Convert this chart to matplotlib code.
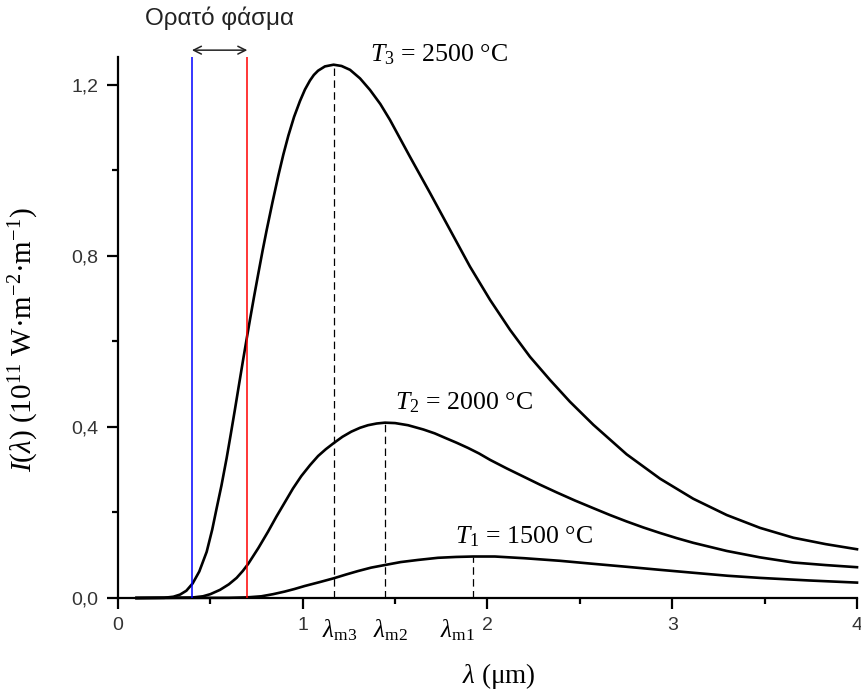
import numpy as np
import matplotlib
matplotlib.use("Agg")
import matplotlib.pyplot as plt

plt.rcParams['font.family'] = ['Liberation Sans', 'DejaVu Sans']
plt.rcParams['mathtext.fontset'] = 'custom'
plt.rcParams['mathtext.rm'] = 'Liberation Serif'
plt.rcParams['mathtext.it'] = 'Liberation Serif:italic'

# λ (μm) and I(λ) (10^11 W·m^-2·m^-1)
x_T3 = [0.10, 0.25, 0.30, 0.336, 0.37, 0.404, 0.44, 0.48, 0.51, 0.534, 0.56, 0.588, 0.61,
        0.633, 0.655, 0.678, 0.70, 0.714, 0.737, 0.76, 0.783, 0.805, 0.836, 0.868, 0.895,
        0.922, 0.953, 0.985, 1.012, 1.039, 1.06, 1.083, 1.12, 1.167, 1.21, 1.256, 1.31,
        1.364, 1.42, 1.472, 1.58, 1.689, 1.797, 1.905, 2.014, 2.122, 2.23, 2.338, 2.446,
        2.573, 2.753, 2.934, 3.114, 3.295, 3.475, 3.655, 3.83, 4.0]
y_T3 = [0.0, 0.0005, 0.003, 0.008, 0.017, 0.034, 0.062, 0.108, 0.160, 0.210, 0.263, 0.327,
        0.382, 0.441, 0.499, 0.559, 0.615, 0.650, 0.706, 0.760, 0.813, 0.861, 0.925, 0.988,
        1.037, 1.081, 1.125, 1.162, 1.189, 1.210, 1.223, 1.233, 1.243, 1.247, 1.244, 1.235,
        1.215, 1.188, 1.155, 1.118, 1.032, 0.947, 0.861, 0.775, 0.697, 0.627, 0.564, 0.510,
        0.459, 0.405, 0.336, 0.279, 0.232, 0.194, 0.164, 0.141, 0.126, 0.114]

x_T2 = [0.10, 0.40, 0.46, 0.50, 0.552, 0.60, 0.642, 0.675, 0.705, 0.76, 0.812, 0.857, 0.902,
        0.947, 0.992, 1.04, 1.083, 1.125, 1.167, 1.215, 1.263, 1.31, 1.353, 1.40, 1.445,
        1.50, 1.57, 1.653, 1.714, 1.773, 1.833, 1.894, 1.954, 2.014, 2.104, 2.194, 2.284,
        2.374, 2.473, 2.573, 2.663, 2.753, 2.843, 2.934, 3.024, 3.114, 3.295, 3.475, 3.655,
        3.83, 4.0]
y_T2 = [0.0, 0.001, 0.004, 0.009, 0.019, 0.032, 0.047, 0.063, 0.080, 0.117, 0.155, 0.190,
        0.223, 0.256, 0.285, 0.311, 0.332, 0.348, 0.362, 0.377, 0.389, 0.398, 0.404, 0.408,
        0.410, 0.409, 0.404, 0.394, 0.385, 0.374, 0.363, 0.351, 0.338, 0.323, 0.303, 0.284,
        0.265, 0.247, 0.228, 0.210, 0.194, 0.179, 0.165, 0.152, 0.140, 0.129, 0.110, 0.095,
        0.083, 0.077, 0.072]

x_T1 = [0.10, 0.60, 0.70, 0.776, 0.84, 0.902, 0.955, 1.010, 1.09, 1.167, 1.235, 1.299, 1.37,
        1.443, 1.53, 1.624, 1.732, 1.83, 1.922, 2.04, 2.2, 2.392, 2.57, 2.753, 2.93, 3.114,
        3.3, 3.475, 3.74, 4.0]
y_T1 = [0.0, 0.0005, 0.0015, 0.004, 0.009, 0.015, 0.021, 0.028, 0.037, 0.046, 0.055, 0.063,
        0.071, 0.077, 0.084, 0.089, 0.094, 0.096, 0.097, 0.097, 0.093, 0.087, 0.080, 0.073,
        0.066, 0.059, 0.052, 0.047, 0.041, 0.036]

# peak positions (λm) and peak heights
lam_m = [1.922, 1.445, 1.167]
peak_I = [0.097, 0.410, 1.247]
lam_labels = [r"$\lambda_{\mathrm{m1}}$", r"$\lambda_{\mathrm{m2}}$", r"$\lambda_{\mathrm{m3}}$"]
curve_labels = [r"$T_1$ = 1500 °C", r"$T_2$ = 2000 °C", r"$T_3$ = 2500 °C"]

# visible spectrum limits
lam_violet = 0.40
lam_red = 0.70

xticks = [0, 1, 2, 3, 4]
yticks = [0.0, 0.4, 0.8, 1.2]
ytick_labels = ["0,0", "0,4", "0,8", "1,2"]

fig = plt.figure(figsize=(8.62, 6.98), dpi=100)
ax = fig.add_axes([118/862, 1-598/698, 739/862, 541/698])

ax.plot(x_T1, y_T1, color="black", lw=1.9, clip_on=False, zorder=3)
ax.plot(x_T2, y_T2, color="black", lw=1.9, clip_on=False, zorder=3)
ax.plot(x_T3, y_T3, color="black", lw=1.9, clip_on=False, zorder=3)

for lm, pk in zip(lam_m, peak_I):
    ax.plot([lm, lm], [0, pk], color="black", lw=0.9, linestyle=(0, (6, 3.5)), zorder=2)

ax.axvline(lam_violet, color="#0000ff", lw=1.1, zorder=4)
ax.axvline(lam_red, color="#ff0000", lw=1.1, zorder=4)

ax.annotate("", xy=(lam_violet, 1.281), xytext=(lam_red, 1.281),
            arrowprops=dict(arrowstyle="<->", color="#222222", lw=1.1,
                            shrinkA=0, shrinkB=0, mutation_scale=14),
            annotation_clip=False)
ax.text((lam_violet + lam_red) / 2, 1.355, "Ορατό φάσμα", ha="center", va="center",
        fontsize=17.5, color="#222222", clip_on=False)

serif = ["Liberation Serif", "DejaVu Serif"]
label_pos = [(1.824, 0.143), (1.499, 0.456), (1.364, 1.270)]
for (tx, ty), lab in zip(label_pos, curve_labels):
    ax.text(tx, ty, lab, ha="left", va="center", fontsize=18.6, family=serif, clip_on=False)

lam_text_x = [1.835, 1.472, 1.202]
for tx, lab in zip(lam_text_x, lam_labels):
    ax.text(tx, -0.075, lab, ha="center", va="center", fontsize=18, family=serif,
            clip_on=False)

ax.set_xlim(0, 4)
ax.set_ylim(0, 1.265)
ax.set_xticks(xticks)
ax.set_xticks([0.5, 1.5, 2.5, 3.5], minor=True)
ax.set_yticks(yticks)
ax.set_yticklabels(ytick_labels)
ax.set_yticks([0.2, 0.6, 1.0], minor=True)

for s in ["top", "right"]:
    ax.spines[s].set_visible(False)
for s in ["left", "bottom"]:
    ax.spines[s].set_linewidth(1.6)

ax.tick_params(which="major", direction="out", length=8, width=1.6, labelsize=14,
               labelcolor="#333333", pad=6)
ax.tick_params(which="minor", direction="out", length=4, width=1.6)

fig.text(499/862, 1-676/698, r"$\lambda$ (μm)", ha="center", va="center",
         fontsize=19.5, family=serif)
fig.text(24/862, 1-340/698, r"$I$($\lambda$) (10$^{11}$ W·m$^{-2}$·m$^{-1}$)",
         ha="center", va="center", rotation=90, fontsize=21, family=serif)

fig.savefig("out.png", dpi=100)
